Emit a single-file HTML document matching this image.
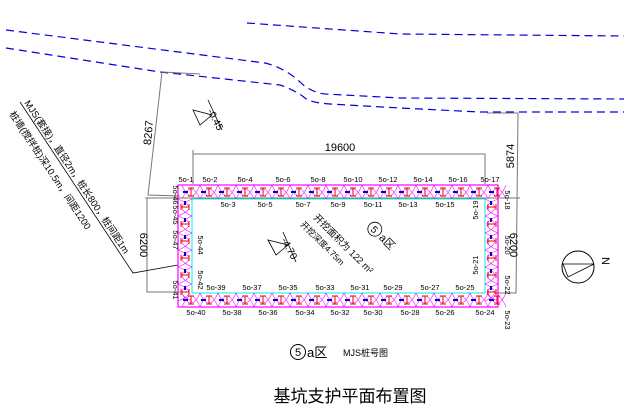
<!DOCTYPE html>
<html><head><meta charset="utf-8"><style>
html,body{margin:0;padding:0;background:#fff}
svg{display:block}
text{font-family:"Liberation Sans","Noto Sans CJK SC",sans-serif}
</style></head><body>
<svg id="s" width="624" height="411" viewBox="0 0 624 411" xmlns="http://www.w3.org/2000/svg">
<g fill="none" stroke="#0000dd" stroke-width="1.2" stroke-dasharray="8,5">
<path d="M247,23 L400,34 L624,36"/>
<path d="M6,30 L265,63 Q285,68 300,82 Q310,92 325,94 L400,98 L624,99"/>
<path d="M6,48 L160,72 L280,85 Q295,90 305,98 Q312,103 330,104 L400,108 L480,112 L624,112"/>
</g>
<g fill="none" stroke="#777" stroke-width="1">
<path d="M162,72 L148,195 L180,196"/>
<path d="M162,72 L200,74"/>
<path d="M145,198 L520,198"/>
<path d="M147,198 L147,292 L180,292"/>
<path d="M193,150 L193,184 M193,154 L485,154 L485,184"/>
<path d="M487,113 L518,113 L516,293 L495,293"/>
</g>
<text x="340" y="151" font-size="11" text-anchor="middle">19600</text>
<text transform="translate(152,133) rotate(-85)" font-size="11" text-anchor="middle">8267</text>
<text transform="translate(514,156) rotate(-90)" font-size="11" text-anchor="middle">5874</text>
<text transform="translate(140,245) rotate(90)" font-size="11" text-anchor="middle">6200</text>
<text transform="translate(510,245) rotate(90)" font-size="11" text-anchor="middle">6200</text>
<path d="M20,102 L133,273 L178,265" fill="none" stroke="#000" stroke-width="0.8"/>
<text transform="translate(24,103) rotate(56.5)" font-size="9.5">MJS(套接)，直径2m，桩长800，桩间距1m</text>
<text transform="translate(9,114) rotate(56.5)" font-size="9.5">桩墙(搅拌桩)深10.5m，间距1200</text>
<g stroke="#000" fill="none" stroke-width="0.8">
<path d="M193,110 L200,125 L212,115 Z"/><path d="M208,100 L222,130"/>
<path d="M268,240 L276,255 L288,245 Z"/><path d="M283,232 L296,262"/>
</g>
<text transform="translate(207,111) rotate(62)" font-size="10">-0.45</text>
<text transform="translate(281,240) rotate(62)" font-size="10">-4.70</text>
<text transform="translate(313,218) rotate(45)" font-size="9.5">开挖面积为 122 m²</text>
<text transform="translate(300,225) rotate(45)" font-size="8.5">开挖深度4.75m</text>
<g transform="translate(372,232) rotate(45)"><circle cx="0" cy="-4" r="7" fill="none" stroke="#000" stroke-width="0.8"/><text x="0" y="0" font-size="10" text-anchor="middle">5</text><text x="9" y="0" font-size="11">a区</text></g>
<g id="pit"></g>
<circle cx="578" cy="267" r="16" fill="none" stroke="#000"/>
<path d="M563,264 L594,264 L568,277 Z" fill="none" stroke="#000" stroke-width="0.8"/>
<text x="600" y="267" font-size="11" transform="rotate(90 606 263)">N</text>
<circle cx="298" cy="352" r="7.5" fill="none" stroke="#000"/>
<text x="298" y="356" font-size="11" text-anchor="middle">5</text>
<text x="307" y="357" font-size="13">a区</text>
<text x="343" y="356" font-size="9">MJS桩号图</text>
<text x="350" y="402" font-size="17" text-anchor="middle">基坑支护平面布置图</text>
</svg>
<script>
var g=document.getElementById('pit'),h='';
var L=178,R=498,T=185,B=307,iL=192,iR=485,iT=199,iB=293;
h+='<rect x="'+L+'" y="'+T+'" width="'+(R-L)+'" height="'+(B-T)+'" fill="none" stroke="#f0f" stroke-width="1.2"/>';
h+='<rect x="'+iL+'" y="'+iT+'" width="'+(iR-iL)+'" height="'+(iB-iT)+'" fill="none" stroke="#0ee" stroke-width="1"/>';
function ib(x,y,v){var s=3;if(!v)return '<path d="M'+(x-s)+','+(y-4)+'h'+(2*s)+'M'+x+','+(y-4)+'v8M'+(x-s)+','+(y+4)+'h'+(2*s)+'" stroke="#e00" fill="none"/>';
return '<path d="M'+(x-4)+','+(y-s)+'v'+(2*s)+'M'+(x-4)+','+y+'h8M'+(x+4)+','+(y-s)+'v'+(2*s)+'" stroke="#e00" fill="none"/>';}
for(var x=L+4;x<R-4;x+=18){
 h+='<path d="M'+x+','+T+' Q'+(x+9)+','+(T+22)+' '+(x+18)+','+T+' M'+x+','+iT+' Q'+(x+9)+','+(T-6)+' '+(x+18)+','+iT+'" stroke="#f0f" fill="none" stroke-width="0.6"/>';
 h+='<path d="M'+x+','+B+' Q'+(x+9)+','+(B-22)+' '+(x+18)+','+B+' M'+x+','+iB+' Q'+(x+9)+','+(B+6)+' '+(x+18)+','+iB+'" stroke="#f0f" fill="none" stroke-width="0.6"/>';
 h+=ib(x+9,192,0)+ib(x+9,300,0);
 h+='<rect x="'+(x+1)+'" y="191" width="5" height="2" fill="#00d"/><rect x="'+(x+1)+'" y="299" width="5" height="2" fill="#00d"/>';
}
for(var y=iT;y<iB;y+=17){
 h+='<path d="M'+L+','+y+' Q'+(L+22)+','+(y+8.5)+' '+L+','+(y+17)+' M'+iL+','+y+' Q'+(L-6)+','+(y+8.5)+' '+iL+','+(y+17)+'" stroke="#f0f" fill="none" stroke-width="0.6"/>';
 h+='<path d="M'+R+','+y+' Q'+(R-22)+','+(y+8.5)+' '+R+','+(y+17)+' M'+iR+','+y+' Q'+(R+6)+','+(y+8.5)+' '+iR+','+(y+17)+'" stroke="#f0f" fill="none" stroke-width="0.6"/>';
 h+=ib(185,y+8,1)+ib(492,y+8,1);
 h+='<rect x="184" y="'+(y+2)+'" width="2" height="4" fill="#00d"/><rect x="490" y="'+(y+2)+'" width="2" height="4" fill="#00d"/>';
}
function t(x,y,s,r){h+='<text font-size="7.5" text-anchor="middle" '+(r?'transform="translate('+x+','+y+') rotate('+r+')"':'x="'+x+'" y="'+y+'"')+'>'+s+'</text>';}
[[186,1],[210,2],[245,4],[283,6],[318,8],[353,10],[388,12],[423,14],[458,16],[490,17]].forEach(function(a){t(a[0],182,'5o-'+a[1]);});
[[228,3],[265,5],[303,7],[338,9],[373,11],[408,13],[445,15]].forEach(function(a){t(a[0],207,'5o-'+a[1]);});
[[216,39],[252,37],[288,35],[325,33],[360,31],[393,29],[430,27],[465,25]].forEach(function(a){t(a[0],290,'5o-'+a[1]);});
[[196,40],[232,38],[268,36],[305,34],[340,32],[373,30],[410,28],[445,26],[485,24]].forEach(function(a){t(a[0],315,'5o-'+a[1]);});
[[195,46],[215,45],[240,47],[290,41]].forEach(function(a){t(173,a[0],'5o-'+a[1],90);});
t(198,245,'5o-44',90);t(198,280,'5o-42',90);
[[200,18],[245,20],[285,22],[320,23]].forEach(function(a){t(505,a[0],'5o-'+a[1],90);});
t(478,210,'5o-19',-90);t(478,265,'5o-21',-90);
g.innerHTML=h;
</script>
</body></html>
